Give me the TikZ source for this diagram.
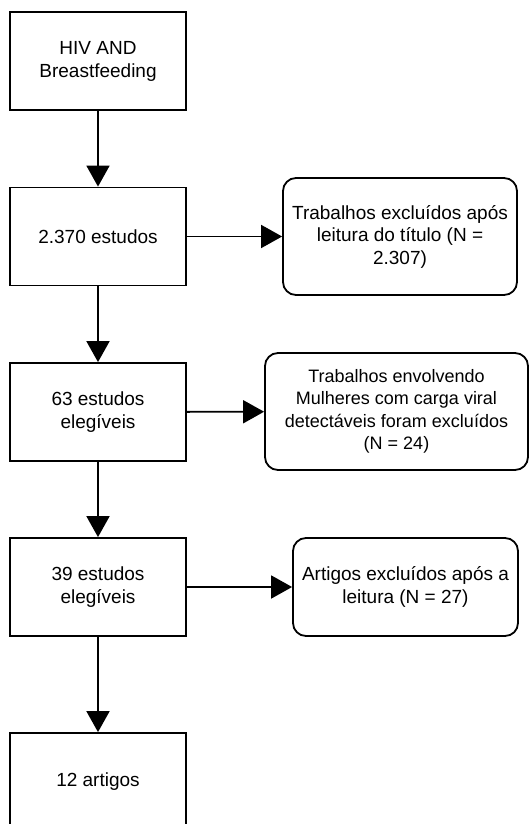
\documentclass[tikz,border=0pt]{standalone}
\usepackage{fontspec}
\setmainfont{Liberation Sans}
\usetikzlibrary{
	arrows.meta,
	positioning
}

\tikzset{
	etapa/.style={draw, line width=1.8pt, minimum width=176pt, minimum height=98pt,
		inner sep=0pt, align=center, font=\fontsize{19}{23}\selectfont},
	exclusao/.style={draw, line width=1.8pt, rounded corners=13pt, inner sep=0pt,
		align=center, font=\fontsize{19}{22.5}\selectfont},
	seta/.style={line width=1.8pt, -{Triangle[length=21pt,width=23pt]}}
}

\begin{document}
\begin{tikzpicture}[x=1pt,y=-1pt]
	% area da figura
	\useasboundingbox (0,0) rectangle (530,824);
	
	% etapas da busca
	\node[etapa] (hiv) at (98,61) {HIV AND\\Breastfeeding};
	\node[etapa] (estudos) at (98,236.5) {2.370 estudos};
	\node[etapa] (elegiveis) at (98,412) {63 estudos\\elegíveis};
	\node[etapa] (elegiveisb) at (98,587) {39 estudos\\elegíveis};
	\node[etapa] (artigos) at (98,782) {12 artigos};
	
	% exclusoes
	\node[exclusao, minimum width=234pt, minimum height=117pt] (excl1) at (400,236.5)
		{Trabalhos excluídos após\\leitura do título (N =\\2.307)};
	\node[exclusao, minimum width=263pt, minimum height=117pt,
		font=\fontsize{18}{22.5}\selectfont] (excl2) at (396.5,411.5)
		{Trabalhos envolvendo\\Mulheres com carga viral\\detectáveis foram excluídos\\(N = 24)};
	\node[exclusao, minimum width=225pt, minimum height=98pt] (excl3) at (405.5,587)
		{Artigos excluídos após a\\leitura (N = 27)};
	
	% setas verticais
	\foreach \a/\b in {hiv/estudos,estudos/elegiveis,elegiveis/elegiveisb,elegiveisb/artigos}
	\draw[seta] (\a) -- (\b);
	
	% setas para as exclusoes
	\foreach \a/\b in {estudos/excl1,elegiveis/excl2,elegiveisb/excl3}
	\draw[seta] (\a) -- (\b);
\end{tikzpicture}
\end{document}
